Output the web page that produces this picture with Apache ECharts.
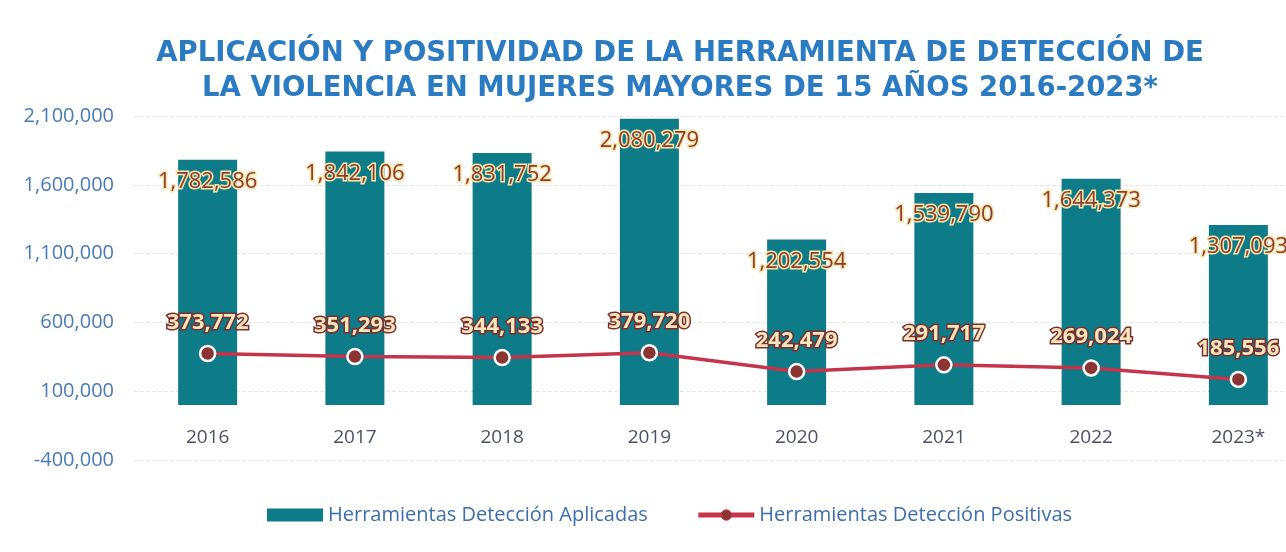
<!DOCTYPE html>
<html><head><meta charset="utf-8">
<script src="https://cdn.jsdelivr.net/npm/echarts@6/dist/echarts.min.js"></script>
<style>html,body{margin:0;padding:0;background:#fff;}#c{width:1286px;height:552px;}</style>
</head><body><div id="c"></div>
<script>
const years = ['2016','2017','2018','2019','2020','2021','2022','2023*'];
const aplicadas = [1782586, 1842106, 1831752, 2080279, 1202554, 1539790, 1644373, 1307093];
const positivas = [373772, 351293, 344133, 379720, 242479, 291717, 269024, 185556];
const titleText = 'APLICACIÓN Y POSITIVIDAD DE LA HERRAMIENTA DE DETECCIÓN DE\nLA VIOLENCIA EN MUJERES MAYORES DE 15 AÑOS 2016-2023*';

const fmt = v => Number(v).toLocaleString('en-US');
const chart = echarts.init(document.getElementById('c'));
chart.setOption({
  animation: false,
  backgroundColor: '#ffffff',
  title: {
    text: titleText, left: 675, textAlign: 'center', top: 31,
    textStyle: { fontFamily: 'DejaVu Sans', fontWeight: 'bold', fontSize: 27.5, color: '#2b7bc2', lineHeight: 35 }
  },
  legend: {
    bottom: 22, left: 262, itemGap: 48, itemWidth: 56, itemHeight: 13,
    textStyle: { fontFamily: 'Open Sans', fontSize: 20, color: '#3d6fae' },
    data: [
      { name: 'Herramientas Detección Aplicadas', icon: 'rect' },
      { name: 'Herramientas Detección Positivas', lineStyle: { width: 5, color: '#c4344a' },
        itemStyle: { color: '#8a3434', borderColor: '#c4344a', borderWidth: 1 } }
    ]
  },
  grid: { left: 134, top: 116, width: 1178, bottom: 92, containLabel: false, outerBoundsMode: 'none' },
  xAxis: {
    type: 'category', data: years, offset: -56,
    axisLine: { show: false, onZero: false }, axisTick: { show: false },
    axisLabel: { fontFamily: 'Open Sans', fontSize: 19, color: '#4a5068', margin: 24 }
  },
  yAxis: {
    type: 'value', min: -400000, max: 2100000, interval: 500000,
    axisLine: { show: false }, axisTick: { show: false },
    axisLabel: { fontFamily: 'Open Sans', fontSize: 20, color: '#4a7ab8', margin: 20, formatter: fmt },
    splitLine: { lineStyle: { color: '#e6e6e6', type: 'dashed' } }
  },
  series: [
    {
      name: 'Herramientas Detección Aplicadas', type: 'bar', data: aplicadas,
      barWidth: 59, itemStyle: { color: '#0e7b88' },
      label: {
        show: true, position: 'insideTop', distance: 11, formatter: p => fmt(p.value),
        fontFamily: 'Open Sans', fontSize: 22, fontWeight: 'normal', color: '#8e3b38',
        textBorderColor: '#f4e7a8', textBorderWidth: 3
      }
    },
    {
      name: 'Herramientas Detección Positivas', type: 'line', data: positivas,
      symbol: 'circle', symbolSize: 15,
      lineStyle: { color: '#c4344a', width: 3.5 },
      itemStyle: { color: '#8a3434', borderColor: '#ffffff', borderWidth: 2.5 },
      label: {
        show: true, position: 'top', distance: 11, formatter: p => fmt(p.value),
        fontFamily: 'Open Sans', fontSize: 22, fontWeight: 700, color: '#f6e6bc',
        textBorderColor: '#7a2e2e', textBorderWidth: 3
      },
      z: 5
    }
  ]
});
</script></body></html>
